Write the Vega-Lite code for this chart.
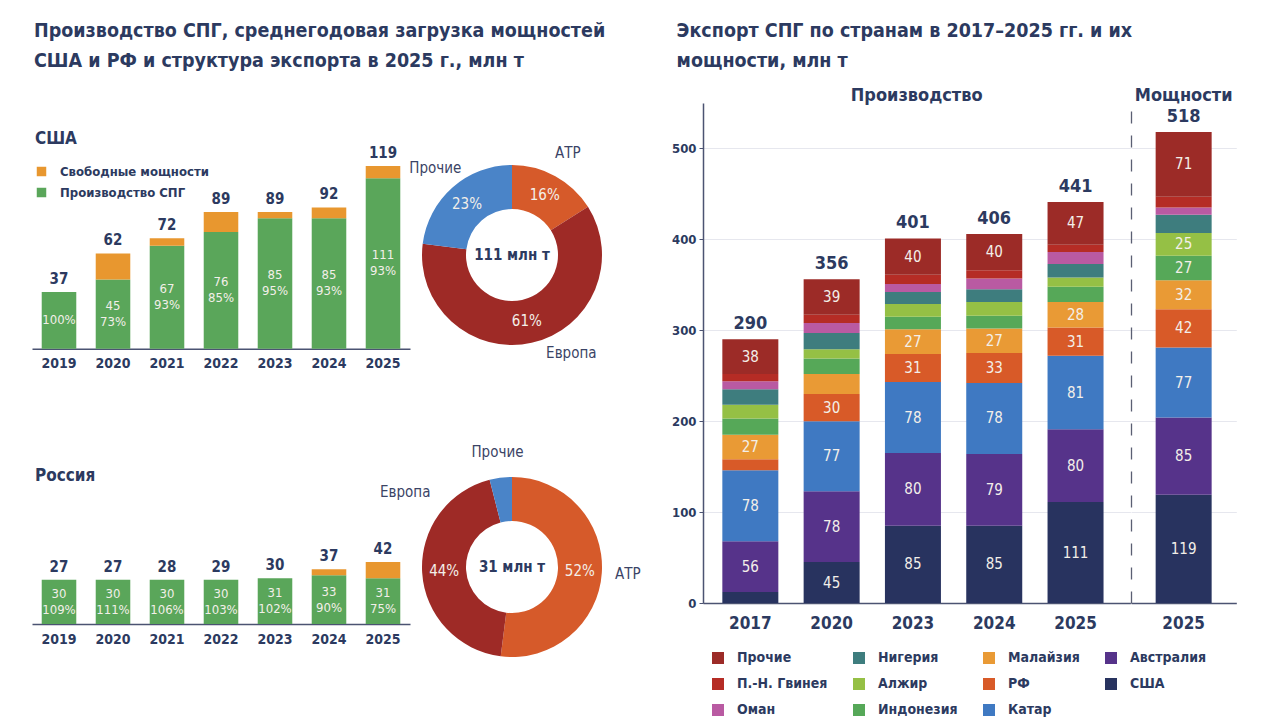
{
  "$schema": "https://vega.github.io/schema/vega-lite/v6.json",
  "padding": {"left": 32, "top": 20, "right": 5, "bottom": 5},
  "background": "white",
  "config": {
    "font": "Liberation Sans Narrow, DejaVu Sans Condensed, Roboto, sans-serif",
    "view": {"stroke": null},
    "title": {"color": "#2c3a60", "fontWeight": "bold"},
    "text": {"font": "Liberation Sans Narrow, DejaVu Sans Condensed, Roboto, sans-serif"}
  },
  "datasets": {
    "us": [
      {"year": "2019", "kind": "Производство СПГ", "value": 37, "cap": 37, "lbl": "100%"},
      {"year": "2019", "kind": "Свободные мощности", "value": 0, "cap": 37},
      {"year": "2020", "kind": "Производство СПГ", "value": 45, "cap": 62, "lbl": "45\n73%"},
      {"year": "2020", "kind": "Свободные мощности", "value": 17, "cap": 62},
      {"year": "2021", "kind": "Производство СПГ", "value": 67, "cap": 72, "lbl": "67\n93%"},
      {"year": "2021", "kind": "Свободные мощности", "value": 5, "cap": 72},
      {"year": "2022", "kind": "Производство СПГ", "value": 76, "cap": 89, "lbl": "76\n85%"},
      {"year": "2022", "kind": "Свободные мощности", "value": 13, "cap": 89},
      {"year": "2023", "kind": "Производство СПГ", "value": 85, "cap": 89, "lbl": "85\n95%"},
      {"year": "2023", "kind": "Свободные мощности", "value": 4, "cap": 89},
      {"year": "2024", "kind": "Производство СПГ", "value": 85, "cap": 92, "lbl": "85\n93%"},
      {"year": "2024", "kind": "Свободные мощности", "value": 7, "cap": 92},
      {"year": "2025", "kind": "Производство СПГ", "value": 111, "cap": 119, "lbl": "111\n93%"},
      {"year": "2025", "kind": "Свободные мощности", "value": 8, "cap": 119}
    ],
    "ru": [
      {"year": "2019", "kind": "Производство СПГ", "value": 30, "cap": 27, "lbl": "30\n109%"},
      {"year": "2019", "kind": "Свободные мощности", "value": 0, "cap": 27},
      {"year": "2020", "kind": "Производство СПГ", "value": 30, "cap": 27, "lbl": "30\n111%"},
      {"year": "2020", "kind": "Свободные мощности", "value": 0, "cap": 27},
      {"year": "2021", "kind": "Производство СПГ", "value": 30, "cap": 28, "lbl": "30\n106%"},
      {"year": "2021", "kind": "Свободные мощности", "value": 0, "cap": 28},
      {"year": "2022", "kind": "Производство СПГ", "value": 30, "cap": 29, "lbl": "30\n103%"},
      {"year": "2022", "kind": "Свободные мощности", "value": 0, "cap": 29},
      {"year": "2023", "kind": "Производство СПГ", "value": 31, "cap": 30, "lbl": "31\n102%"},
      {"year": "2023", "kind": "Свободные мощности", "value": 0, "cap": 30},
      {"year": "2024", "kind": "Производство СПГ", "value": 33, "cap": 37, "lbl": "33\n90%"},
      {"year": "2024", "kind": "Свободные мощности", "value": 4, "cap": 37},
      {"year": "2025", "kind": "Производство СПГ", "value": 31, "cap": 42, "lbl": "31\n75%"},
      {"year": "2025", "kind": "Свободные мощности", "value": 11, "cap": 42}
    ],
    "usd": [
      {"region": "АТР", "pct": 16, "plbl": "16%"},
      {"region": "Европа", "pct": 61, "plbl": "61%"},
      {"region": "Прочие", "pct": 23, "plbl": "23%"}
    ],
    "rud": [
      {"region": "АТР", "pct": 52, "plbl": "52%"},
      {"region": "Европа", "pct": 44, "plbl": "44%"},
      {"region": "Прочие", "pct": 4, "plbl": ""}
    ],
    "exp": [
      {"g": "prod", "year": "2017", "country": "США", "value": 12, "lbl": ""},
      {"g": "prod", "year": "2017", "country": "Австралия", "value": 56, "lbl": "56"},
      {"g": "prod", "year": "2017", "country": "Катар", "value": 78, "lbl": "78"},
      {"g": "prod", "year": "2017", "country": "РФ", "value": 12, "lbl": ""},
      {"g": "prod", "year": "2017", "country": "Малайзия", "value": 27, "lbl": "27"},
      {"g": "prod", "year": "2017", "country": "Индонезия", "value": 18, "lbl": ""},
      {"g": "prod", "year": "2017", "country": "Алжир", "value": 15, "lbl": ""},
      {"g": "prod", "year": "2017", "country": "Нигерия", "value": 17, "lbl": ""},
      {"g": "prod", "year": "2017", "country": "Оман", "value": 9, "lbl": ""},
      {"g": "prod", "year": "2017", "country": "П.-Н. Гвинея", "value": 8, "lbl": ""},
      {"g": "prod", "year": "2017", "country": "Прочие", "value": 38, "lbl": "38"},
      {"g": "prod", "year": "2020", "country": "США", "value": 45, "lbl": "45"},
      {"g": "prod", "year": "2020", "country": "Австралия", "value": 78, "lbl": "78"},
      {"g": "prod", "year": "2020", "country": "Катар", "value": 77, "lbl": "77"},
      {"g": "prod", "year": "2020", "country": "РФ", "value": 30, "lbl": "30"},
      {"g": "prod", "year": "2020", "country": "Малайзия", "value": 22, "lbl": ""},
      {"g": "prod", "year": "2020", "country": "Индонезия", "value": 17, "lbl": ""},
      {"g": "prod", "year": "2020", "country": "Алжир", "value": 10, "lbl": ""},
      {"g": "prod", "year": "2020", "country": "Нигерия", "value": 18, "lbl": ""},
      {"g": "prod", "year": "2020", "country": "Оман", "value": 11, "lbl": ""},
      {"g": "prod", "year": "2020", "country": "П.-Н. Гвинея", "value": 9, "lbl": ""},
      {"g": "prod", "year": "2020", "country": "Прочие", "value": 39, "lbl": "39"},
      {"g": "prod", "year": "2023", "country": "США", "value": 85, "lbl": "85"},
      {"g": "prod", "year": "2023", "country": "Австралия", "value": 80, "lbl": "80"},
      {"g": "prod", "year": "2023", "country": "Катар", "value": 78, "lbl": "78"},
      {"g": "prod", "year": "2023", "country": "РФ", "value": 31, "lbl": "31"},
      {"g": "prod", "year": "2023", "country": "Малайзия", "value": 27, "lbl": "27"},
      {"g": "prod", "year": "2023", "country": "Индонезия", "value": 14, "lbl": ""},
      {"g": "prod", "year": "2023", "country": "Алжир", "value": 14, "lbl": ""},
      {"g": "prod", "year": "2023", "country": "Нигерия", "value": 13, "lbl": ""},
      {"g": "prod", "year": "2023", "country": "Оман", "value": 9, "lbl": ""},
      {"g": "prod", "year": "2023", "country": "П.-Н. Гвинея", "value": 10, "lbl": ""},
      {"g": "prod", "year": "2023", "country": "Прочие", "value": 40, "lbl": "40"},
      {"g": "prod", "year": "2024", "country": "США", "value": 85, "lbl": "85"},
      {"g": "prod", "year": "2024", "country": "Австралия", "value": 79, "lbl": "79"},
      {"g": "prod", "year": "2024", "country": "Катар", "value": 78, "lbl": "78"},
      {"g": "prod", "year": "2024", "country": "РФ", "value": 33, "lbl": "33"},
      {"g": "prod", "year": "2024", "country": "Малайзия", "value": 27, "lbl": "27"},
      {"g": "prod", "year": "2024", "country": "Индонезия", "value": 14, "lbl": ""},
      {"g": "prod", "year": "2024", "country": "Алжир", "value": 15, "lbl": ""},
      {"g": "prod", "year": "2024", "country": "Нигерия", "value": 14, "lbl": ""},
      {"g": "prod", "year": "2024", "country": "Оман", "value": 12, "lbl": ""},
      {"g": "prod", "year": "2024", "country": "П.-Н. Гвинея", "value": 9, "lbl": ""},
      {"g": "prod", "year": "2024", "country": "Прочие", "value": 40, "lbl": "40"},
      {"g": "prod", "year": "2025", "country": "США", "value": 111, "lbl": "111"},
      {"g": "prod", "year": "2025", "country": "Австралия", "value": 80, "lbl": "80"},
      {"g": "prod", "year": "2025", "country": "Катар", "value": 81, "lbl": "81"},
      {"g": "prod", "year": "2025", "country": "РФ", "value": 31, "lbl": "31"},
      {"g": "prod", "year": "2025", "country": "Малайзия", "value": 28, "lbl": "28"},
      {"g": "prod", "year": "2025", "country": "Индонезия", "value": 17, "lbl": ""},
      {"g": "prod", "year": "2025", "country": "Алжир", "value": 10, "lbl": ""},
      {"g": "prod", "year": "2025", "country": "Нигерия", "value": 15, "lbl": ""},
      {"g": "prod", "year": "2025", "country": "Оман", "value": 13, "lbl": ""},
      {"g": "prod", "year": "2025", "country": "П.-Н. Гвинея", "value": 8, "lbl": ""},
      {"g": "prod", "year": "2025", "country": "Прочие", "value": 47, "lbl": "47"},
      {"g": "cap", "year": "2025", "country": "США", "value": 119, "lbl": "119"},
      {"g": "cap", "year": "2025", "country": "Австралия", "value": 85, "lbl": "85"},
      {"g": "cap", "year": "2025", "country": "Катар", "value": 77, "lbl": "77"},
      {"g": "cap", "year": "2025", "country": "РФ", "value": 42, "lbl": "42"},
      {"g": "cap", "year": "2025", "country": "Малайзия", "value": 32, "lbl": "32"},
      {"g": "cap", "year": "2025", "country": "Индонезия", "value": 27, "lbl": "27"},
      {"g": "cap", "year": "2025", "country": "Алжир", "value": 25, "lbl": "25"},
      {"g": "cap", "year": "2025", "country": "Нигерия", "value": 20, "lbl": ""},
      {"g": "cap", "year": "2025", "country": "Оман", "value": 8, "lbl": ""},
      {"g": "cap", "year": "2025", "country": "П.-Н. Гвинея", "value": 12, "lbl": ""},
      {"g": "cap", "year": "2025", "country": "Прочие", "value": 71, "lbl": "71"}
    ]
  },
  "spacing": 30,
  "resolve": {"scale": {"color": "independent", "x": "independent", "y": "independent", "theta": "independent"}, "legend": {"color": "independent"}},
  "hconcat": [
    {
      "title": {"text": ["Производство СПГ, среднегодовая загрузка мощностей", "США и РФ и структура  экспорта в 2025 г., млн т"], "anchor": "start", "fontSize": 19.5, "lineHeight": 30, "offset": 32, "dx": 2},
      "spacing": 37,
      "resolve": {"scale": {"color": "independent", "x": "independent", "y": "independent", "theta": "independent"}, "legend": {"color": "independent"}},
      "vconcat": [
        {
          "bounds": "flush",
          "spacing": 12,
          "resolve": {"scale": {"color": "independent", "x": "independent", "y": "independent", "theta": "independent"}, "legend": {"color": "independent"}},
          "hconcat": [
            {
              "width": 378,
              "height": 245.7,
              "data": {"name": "us"},
              "encoding": {
                "x": {"field": "year", "type": "ordinal", "scale": {"paddingInner": 0.36, "paddingOuter": 0.18},
                  "axis": {"title": null, "labelAngle": 0, "labelFontSize": 14, "labelFontWeight": "bold", "labelColor": "#2c3a60", "ticks": false, "domainColor": "#4b5372", "domainWidth": 1.5, "labelPadding": 8}}
              },
              "layer": [
                {
                  "mark": {"type": "bar"},
                  "encoding": {
                    "y": {"field": "value", "type": "quantitative", "stack": "zero", "scale": {"domain": [0, 159.75]}, "axis": null},
                    "color": {"field": "kind", "type": "nominal",
                      "scale": {"domain": ["Свободные мощности", "Производство СПГ"], "range": ["#e8972f", "#5aa65a"]},
                      "legend": {"orient": "none", "legendX": 3, "legendY": 28, "title": "США", "titleFontSize": 17, "titleColor": "#2c3a60", "titlePadding": 17, "symbolType": "square", "symbolSize": 90, "symbolStrokeWidth": 0, "labelFontSize": 13, "labelFontWeight": "bold", "labelColor": "#2c3a60", "labelOffset": 12, "rowPadding": 7}},
                    "order": {"field": "kind", "sort": "ascending"}
                  }
                },
                {
                  "transform": [{"filter": "datum.kind == 'Производство СПГ'"}],
                  "mark": {"type": "text", "lineBreak": "\n", "lineHeight": 16, "fontSize": 13, "color": "#f3efe9", "dy": {"expr": "indexof(datum.lbl, '\\n') >= 0 ? -8 : 0"}},
                  "encoding": {
                    "y": {"field": "value", "type": "quantitative", "stack": "zero", "bandPosition": 0.5},
                    "text": {"field": "lbl"}
                  }
                },
                {
                  "mark": {"type": "text", "baseline": "bottom", "dy": -5, "fontSize": 15, "fontWeight": "bold", "color": "#2c3a60"},
                  "encoding": {
                    "y": {"aggregate": "sum", "field": "value", "type": "quantitative"},
                    "text": {"aggregate": "max", "field": "cap"}
                  }
                }
              ]
            },
            {
              "width": 180,
              "height": 304,
              "data": {"name": "usd"},
              "layer": [
                {
                  "mark": {"type": "arc", "outerRadius": 90, "innerRadius": 46},
                  "encoding": {
                    "theta": {"field": "pct", "type": "quantitative", "stack": true},
                    "order": {"field": "region", "sort": "ascending"},
                    "color": {"field": "region", "type": "nominal", "scale": {"domain": ["АТР", "Европа", "Прочие"], "range": ["#d65a2a", "#9e2a26", "#4a84c8"]}, "legend": null}
                  }
                },
                {
                  "mark": {"type": "text", "radius": 68, "fontSize": 15, "color": "#f3efe9"},
                  "encoding": {
                    "theta": {"field": "pct", "type": "quantitative", "stack": true},
                    "order": {"field": "region", "sort": "ascending"},
                    "text": {"field": "plbl"}
                  }
                },
                {
                  "mark": {"type": "text", "radius": 116, "fontSize": 15, "color": "#3b4466", "dx": {"expr": "datum.region == 'Европа' ? 34 : 0"}, "dy": {"expr": "datum.region == 'Европа' ? -15 : 0"}},
                  "encoding": {
                    "theta": {"field": "pct", "type": "quantitative", "stack": true},
                    "order": {"field": "region", "sort": "ascending"},
                    "text": {"field": "region"}
                  }
                },
                {
                  "data": {"values": [{"t": "111 млн т"}]},
                  "mark": {"type": "text", "fontSize": 15, "fontWeight": "bold", "color": "#2c3a60"},
                  "encoding": {"text": {"field": "t"}}
                }
              ]
            }
          ]
        },
        {
          "bounds": "flush",
          "spacing": 12,
          "resolve": {"scale": {"color": "independent", "x": "independent", "y": "independent", "theta": "independent"}, "legend": {"color": "independent"}},
          "hconcat": [
            {
              "width": 378,
              "height": 133,
              "title": {"text": "Россия", "anchor": "start", "fontSize": 17, "offset": 6, "dx": 3},
              "data": {"name": "ru"},
              "encoding": {
                "x": {"field": "year", "type": "ordinal", "scale": {"paddingInner": 0.36, "paddingOuter": 0.18},
                  "axis": {"title": null, "labelAngle": 0, "labelFontSize": 14, "labelFontWeight": "bold", "labelColor": "#2c3a60", "ticks": false, "domainColor": "#4b5372", "domainWidth": 1.5, "labelPadding": 8}}
              },
              "layer": [
                {
                  "mark": {"type": "bar"},
                  "encoding": {
                    "y": {"field": "value", "type": "quantitative", "stack": "zero", "scale": {"domain": [0, 86.5]}, "axis": null},
                    "color": {"field": "kind", "type": "nominal",
                      "scale": {"domain": ["Свободные мощности", "Производство СПГ"], "range": ["#e8972f", "#5aa65a"]},
                      "legend": null},
                    "order": {"field": "kind", "sort": "ascending"}
                  }
                },
                {
                  "transform": [{"filter": "datum.kind == 'Производство СПГ'"}],
                  "mark": {"type": "text", "lineBreak": "\n", "lineHeight": 16, "fontSize": 13, "color": "#f3efe9", "dy": {"expr": "indexof(datum.lbl, '\\n') >= 0 ? -8 : 0"}},
                  "encoding": {
                    "y": {"field": "value", "type": "quantitative", "stack": "zero", "bandPosition": 0.5},
                    "text": {"field": "lbl"}
                  }
                },
                {
                  "mark": {"type": "text", "baseline": "bottom", "dy": -5, "fontSize": 15, "fontWeight": "bold", "color": "#2c3a60"},
                  "encoding": {
                    "y": {"aggregate": "sum", "field": "value", "type": "quantitative"},
                    "text": {"aggregate": "max", "field": "cap"}
                  }
                }
              ]
            },
            {
              "width": 180,
              "height": 152,
              "data": {"name": "rud"},
              "layer": [
                {
                  "mark": {"type": "arc", "outerRadius": 90, "innerRadius": 46},
                  "encoding": {
                    "theta": {"field": "pct", "type": "quantitative", "stack": true},
                    "order": {"field": "region", "sort": "ascending"},
                    "color": {"field": "region", "type": "nominal", "scale": {"domain": ["АТР", "Европа", "Прочие"], "range": ["#d65a2a", "#9e2a26", "#4a84c8"]}, "legend": null}
                  }
                },
                {
                  "mark": {"type": "text", "radius": 68, "fontSize": 15, "color": "#f3efe9"},
                  "encoding": {
                    "theta": {"field": "pct", "type": "quantitative", "stack": true},
                    "order": {"field": "region", "sort": "ascending"},
                    "text": {"field": "plbl"}
                  }
                },
                {
                  "mark": {"type": "text", "radius": 116, "fontSize": 15, "color": "#3b4466", "dx": {"expr": "datum.region == 'Европа' ? 9 : 0"}, "dy": {"expr": "datum.region == 'Европа' ? -82 : 0"}},
                  "encoding": {
                    "theta": {"field": "pct", "type": "quantitative", "stack": true},
                    "order": {"field": "region", "sort": "ascending"},
                    "text": {"field": "region"}
                  }
                },
                {
                  "data": {"values": [{"t": "31 млн т"}]},
                  "mark": {"type": "text", "fontSize": 15, "fontWeight": "bold", "color": "#2c3a60"},
                  "encoding": {"text": {"field": "t"}}
                }
              ]
            }
          ]
        }
      ]
    },
    {
      "title": {"text": ["Экспорт СПГ по странам в 2017–2025 гг. и их", "мощности, млн т"], "anchor": "start", "fontSize": 19.5, "lineHeight": 30, "offset": 15.5, "dx": 5},
      "bounds": "flush",
      "spacing": 0,
      "data": {"name": "exp"},
      "resolve": {"scale": {"x": "independent", "y": "shared", "color": "shared"}},
      "hconcat": [
        {
          "width": 427.4,
          "height": 500,
          "title": {"text": "Производство", "fontSize": 18, "offset": -2},
          "transform": [{"filter": "datum.g == 'prod'"}, {"window": [{"op": "row_number", "as": "k"}]}],
          "encoding": {
            "x": {"field": "year", "type": "ordinal", "scale": {"paddingInner": 0, "paddingOuter": 0.1285, "align": 0.32},
              "axis": {"title": null, "labelAngle": 0, "labelFontSize": 17, "labelFontWeight": "bold", "labelColor": "#2c3a60", "ticks": false, "domainColor": "#4b5372", "domainWidth": 1.5, "labelPadding": 12}}
          },
          "layer": [
            {
              "mark": {"type": "bar", "width": 56},
              "encoding": {
                "y": {"field": "value", "type": "quantitative", "stack": "zero", "scale": {"domain": [0, 550]},
                  "axis": {"title": null, "values": [0, 100, 200, 300, 400, 500], "labelFontSize": 13, "labelFontWeight": "bold", "labelColor": "#2c3a60", "tickSize": 4, "tickColor": "#4b5372", "domainColor": "#4b5372", "domainWidth": 1.5, "grid": true, "gridColor": "#e6e7ee", "labelPadding": 3}},
                "color": {"field": "country", "type": "nominal",
                  "scale": {"domain": ["Прочие", "Нигерия", "Малайзия", "Австралия", "П.-Н. Гвинея", "Алжир", "РФ", "США", "Оман", "Индонезия", "Катар"],
                    "range": ["#9c2b27", "#3e7d7e", "#e99a35", "#56338a", "#b52c25", "#95c045", "#d85a28", "#28335f", "#b95aa2", "#56a858", "#3f79c2"]},
                  "legend": {"orient": "none", "legendX": 8, "legendY": 548, "columns": 4, "direction": "horizontal", "title": null, "symbolType": "square", "symbolSize": 144, "symbolStrokeWidth": 0, "labelFontSize": 14, "labelFontWeight": "bold", "labelColor": "#2c3a60", "labelOffset": 12, "columnPadding": 24, "rowPadding": 12}},
                "order": {"field": "k"}
              }
            },
            {
              "mark": {"type": "text", "fontSize": 15, "color": "#f3efe9"},
              "encoding": {
                "y": {"field": "value", "type": "quantitative", "stack": "zero", "bandPosition": 0.5},
                "text": {"field": "lbl"},
                "order": {"field": "k"}
              }
            },
            {
              "mark": {"type": "text", "baseline": "bottom", "dy": -6, "fontSize": 18, "fontWeight": "bold", "color": "#2c3a60"},
              "encoding": {
                "y": {"aggregate": "sum", "field": "value", "type": "quantitative"},
                "text": {"aggregate": "sum", "field": "value"}
              }
            }
          ]
        },
        {
          "width": 105.3,
          "height": 500,
          "title": {"text": "Мощности", "fontSize": 18, "offset": -2},
          "transform": [{"filter": "datum.g == 'cap'"}, {"window": [{"op": "row_number", "as": "k"}]}],
          "encoding": {
            "x": {"field": "year", "type": "ordinal",
              "axis": {"title": null, "labelAngle": 0, "labelFontSize": 17, "labelFontWeight": "bold", "labelColor": "#2c3a60", "ticks": false, "domainColor": "#4b5372", "domainWidth": 1.5, "labelPadding": 12}}
          },
          "layer": [
            {
              "mark": {"type": "bar", "width": 56},
              "encoding": {
                "y": {"field": "value", "type": "quantitative", "stack": "zero", "scale": {"domain": [0, 550]},
                  "axis": {"title": null, "labels": false, "ticks": false, "values": [0, 100, 200, 300, 400, 500], "grid": true, "gridColor": "#e6e7ee", "domainDash": [12, 12], "domainColor": "#5a5f73", "domainWidth": 1.3}},
                "color": {"field": "country", "type": "nominal"},
                "order": {"field": "k"}
              }
            },
            {
              "mark": {"type": "text", "fontSize": 15, "color": "#f3efe9"},
              "encoding": {
                "y": {"field": "value", "type": "quantitative", "stack": "zero", "bandPosition": 0.5},
                "text": {"field": "lbl"},
                "order": {"field": "k"}
              }
            },
            {
              "mark": {"type": "text", "baseline": "bottom", "dy": -6, "fontSize": 18, "fontWeight": "bold", "color": "#2c3a60"},
              "encoding": {
                "y": {"aggregate": "sum", "field": "value", "type": "quantitative"},
                "text": {"aggregate": "sum", "field": "value"}
              }
            }
          ]
        }
      ]
    }
  ]
}
